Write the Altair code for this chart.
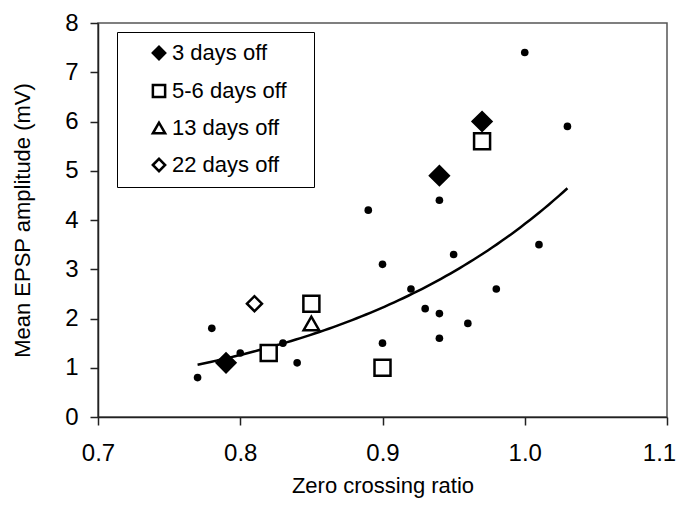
import altair as alt
import numpy as np
import pandas as pd

# ---- data ----
dot_x = [0.77, 0.78, 0.80, 0.83, 0.84, 0.89, 0.90, 0.90, 0.92, 0.93,
         0.94, 0.94, 0.94, 0.95, 0.96, 0.98, 1.00, 1.01, 1.03]
dot_y = [0.8, 1.8, 1.3, 1.5, 1.1, 4.2, 3.1, 1.5, 2.6, 2.2,
         4.4, 2.1, 1.6, 3.3, 1.9, 2.6, 7.4, 3.5, 5.9]

groups = ["3 days off", "5-6 days off", "13 days off", "22 days off"]
sym_group = ["3 days off", "3 days off", "3 days off",
             "5-6 days off", "5-6 days off", "5-6 days off", "5-6 days off",
             "13 days off", "22 days off"]
sym_x = [0.79, 0.94, 0.97, 0.82, 0.85, 0.90, 0.97, 0.85, 0.81]
sym_y = [1.1, 4.9, 6.0, 1.3, 2.3, 1.0, 5.6, 1.9, 2.3]

x_ticks = [0.7, 0.8, 0.9, 1.0, 1.1]
y_ticks = [0, 1, 2, 3, 4, 5, 6, 7, 8]

# ---- tables ----
dots = pd.DataFrame({"x": dot_x, "y": dot_y})
syms = pd.DataFrame({"x": sym_x, "y": sym_y, "group": sym_group})

# exponential trendline (least squares on ln y) fitted to the dots
b, ln_a = np.polyfit(np.array(dot_x), np.log(np.array(dot_y)), 1)
cx = np.linspace(min(dot_x), max(dot_x), 80)
curve = pd.DataFrame({"x": cx, "y": np.exp(ln_a) * np.exp(b * cx)})

FONT = "Liberation Sans"

xs = alt.Scale(domain=[0.7, 1.1], nice=False, zero=False)
ys = alt.Scale(domain=[0, 8], nice=False, zero=True)

x_axis = alt.Axis(title="Zero crossing ratio", values=x_ticks, format=".1f",
                  grid=False, tickSize=8, labelPadding=16, titlePadding=10,
                  labelFontSize=24, titleFontSize=22, labelFlush=False,
                  labelOffset=alt.condition("datum.value > 1.05", alt.value(-8), alt.value(0)))
y_axis = alt.Axis(title="Mean EPSP amplitude (mV)", values=y_ticks, format="d",
                  grid=False, tickSize=8, labelPadding=12, titlePadding=30,
                  labelFontSize=24, titleFontSize=22, labelFlush=False)

X = alt.X("x:Q", scale=xs, axis=x_axis)
Y = alt.Y("y:Q", scale=ys, axis=y_axis)

leg = alt.Legend(
    title=None, orient="none", legendX=19, legendY=9,
    labelFont=FONT, labelFontSize=22, labelColor="black", labelLimit=300,
    padding=10, strokeColor="black", fillColor="white",
    rowPadding=14, symbolSize=150, symbolStrokeWidth=2.5,
    symbolOffset=21, labelOffset=2,
    labelExpr="datum.label + '\u00a0\u00a0\u2009\u200b'",
)

shape_enc = alt.Shape("group:N", scale=alt.Scale(domain=groups,
                      range=["diamond", "square", "triangle-up", "diamond"]), legend=leg)
fill_enc = alt.Fill("group:N", scale=alt.Scale(domain=groups,
                    range=["black", "white", "white", "white"]), legend=leg)

dot_layer = alt.Chart(dots).mark_circle(color="black", size=58, opacity=1).encode(x=X, y=Y)

curve_layer = alt.Chart(curve).mark_line(color="black", strokeWidth=2.5).encode(x=X, y=Y)

sizes = {"3 days off": 350, "5-6 days off": 256, "13 days off": 240, "22 days off": 225}
sym_layers = [
    alt.Chart(syms).transform_filter(alt.datum.group == g).mark_point(
        stroke="black", strokeWidth=2.5, opacity=1, fillOpacity=1, size=sizes[g]
    ).encode(x=X, y=Y, shape=shape_enc, fill=fill_enc)
    for g in groups
]

chart = alt.layer(dot_layer, curve_layer, *sym_layers).properties(
    width=569, height=394,
    background="white",
    autosize=alt.AutoSizeParams(type="none"),
    padding={"left": 90, "top": 15, "right": 10, "bottom": 82},
).configure_view(
    stroke="#555", strokeWidth=1.5
).configure_axis(
    labelFont=FONT, titleFont=FONT, labelColor="black", titleColor="black",
    titleFontWeight="normal", domainColor="#222", domainWidth=1.5,
    tickColor="#222", tickWidth=1.5
)

chart.save("out.html", embed_options={"renderer": "svg", "actions": False})
